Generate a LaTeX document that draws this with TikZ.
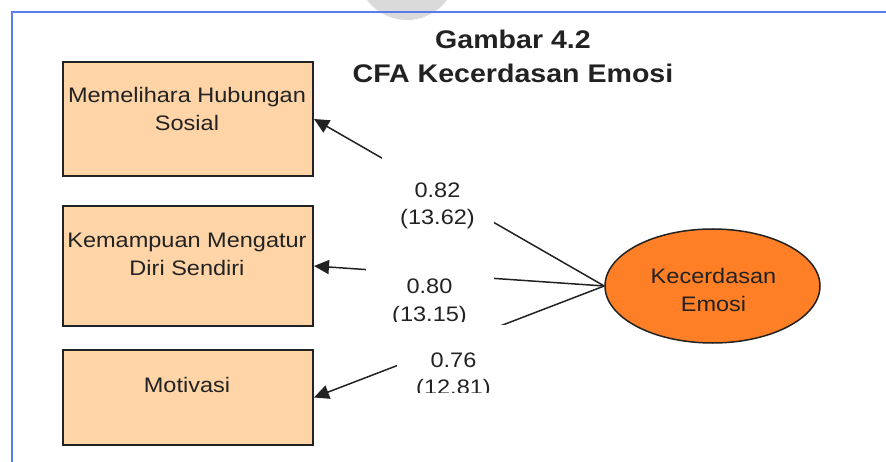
\documentclass[tikz,border=0pt]{standalone}
\usepackage{fontspec}
\setmainfont{Liberation Sans}[FakeStretch=1.12]
\usetikzlibrary{arrows.meta,shapes.geometric}
\definecolor{boxfill}{RGB}{255,213,168}
\definecolor{ellfill}{RGB}{255,127,39}
\definecolor{ink}{RGB}{34,34,34}
\definecolor{frameblue}{RGB}{90,125,235}
\definecolor{wmgray}{RGB}{218,218,218}
\begin{document}
\begin{tikzpicture}[x=1pt,y=-1pt,
  varbox/.style={draw=ink,line width=2pt,fill=boxfill,rectangle,inner sep=0pt,anchor=north west,minimum width=250pt,minimum height=#1},
  latent/.style={draw=ink,line width=1.5pt,fill=ellfill,ellipse,inner sep=0pt,minimum width=215pt,minimum height=114pt},
  txt/.style={anchor=base,inner sep=0pt,text=ink,font=\fontsize{21}{25}\selectfont},
  ttl/.style={anchor=base,inner sep=0pt,text=ink,font=\bfseries\fontsize{25.5}{30}\selectfont},
  lblbox/.style={fill=white,draw=none,rectangle,inner sep=0pt,anchor=north west},
  load/.style={draw=ink,line width=1.5pt,-{Triangle[length=15pt,width=14pt]}},
  frame/.style={draw=frameblue,line width=2pt}
]
\useasboundingbox (0,0) rectangle (886,462);
% watermark
\fill[wmgray] (407,-30) circle (50);
% frame
\coordinate (fa) at (12,462);
\coordinate (fb) at (12,12);
\coordinate (fc) at (886,12);
\draw[frame] (fa) -- (fb) -- (fc);
% title
\node[ttl] (title1) at (513,49) {Gambar 4.2};
\node[ttl] (title2) at (513,83) {CFA Kecerdasan Emosi};
% boxes
\node[varbox=114pt] (b1) at (62,61) {};
\node[varbox=120pt] (b2) at (62,205) {};
\node[varbox=95pt] (b3) at (62,349) {};
\node[txt] (t1a) at (187,103) {Memelihara Hubungan};
\node[txt] (t1b) at (187,131) {Sosial};
\node[txt] (t2a) at (187,248) {Kemampuan Mengatur};
\node[txt] (t2b) at (187,276) {Diri Sendiri};
\node[txt] (t3a) at (187,392) {Motivasi};
% latent
\node[latent] (e) at (712.5,286) {};
\node[txt] (ea) at (713.5,284) {Kecerdasan};
\node[txt] (eb) at (713.5,312) {Emosi};
% loadings
\draw[load] (e.west) -- (b1.east);
\draw[load] (e.west) -- (b2.east);
\draw[load] (e.west) -- (b3.east);
% label boxes
\node[lblbox,minimum width=112pt,minimum height=82pt] (l1) at (382,150) {};
\node[lblbox,minimum width=128pt,minimum height=59pt] (l2) at (366,262) {};
\node[lblbox,minimum width=115pt,minimum height=67pt] (l3) at (397,325) {};
\begin{scope}
\clip (l1.north west) rectangle (l1.south east);
\node[txt] (v1) at (437.5,198) {0.82};
\node[txt] (s1) at (437.5,225) {(13.62)};
\end{scope}
\begin{scope}
\clip (l2.north west) rectangle (l2.south east);
\node[txt] (v2) at (429.5,294) {0.80};
\node[txt] (s2) at (429.5,322) {(13.15)};
\end{scope}
\begin{scope}
\clip (l3.north west) rectangle (l3.south east);
\node[txt] (v3) at (453.5,367) {0.76};
\node[txt] (s3) at (453.5,394) {(12.81)};
\end{scope}
\end{tikzpicture}
\end{document}
